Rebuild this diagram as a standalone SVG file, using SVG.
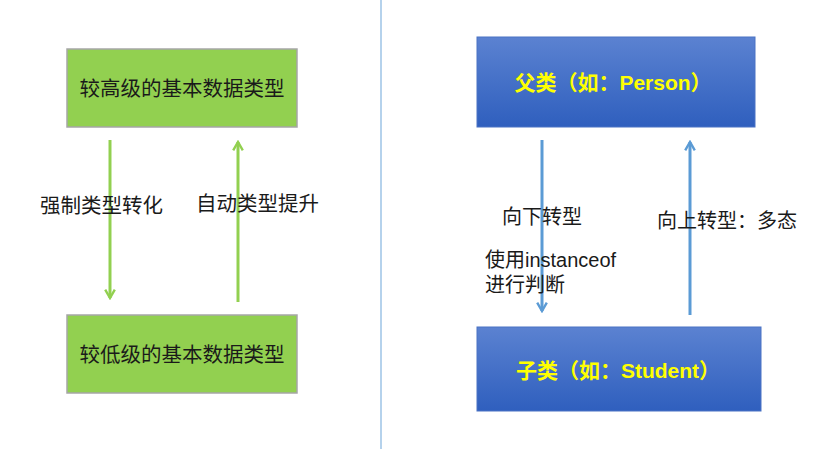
<svg xmlns="http://www.w3.org/2000/svg" width="838" height="449" viewBox="0 0 838 449">
<style>
.gbox{fill:#92D050;stroke:#A6A6A6;stroke-width:1.5}
.bbox{fill:url(#bg);stroke:#4A72C4;stroke-width:1}
.gt{font-family:"Noto Sans CJK SC","Liberation Sans",sans-serif;font-size:20.5px;fill:#1a1a1a}
.bt{font-family:"Liberation Sans","Noto Sans CJK SC",sans-serif;font-size:21px;font-weight:bold;fill:#FFFF00}
.lt{font-family:"Liberation Sans","Noto Sans CJK SC",sans-serif;font-size:20px;fill:#1a1a1a}
.garr{stroke:#92D050;stroke-width:3;fill:none}
.barr{stroke:#5B9BD5;stroke-width:3;fill:none}
</style>
<defs>
<linearGradient id="bg" x1="0" y1="0" x2="0" y2="1">
<stop offset="0" stop-color="#5B82D1"/>
<stop offset="1" stop-color="#2F5FBE"/>
</linearGradient>
<marker id="ga" viewBox="0 0 10 10" refX="8" refY="5" markerWidth="4" markerHeight="4" orient="auto" markerUnits="strokeWidth">
<path d="M1,1 L8,5 L1,9" fill="none" stroke="#92D050" stroke-width="2"/>
</marker>
<marker id="ba" viewBox="0 0 10 10" refX="8" refY="5" markerWidth="4" markerHeight="4" orient="auto" markerUnits="strokeWidth">
<path d="M1,1 L8,5 L1,9" fill="none" stroke="#5B9BD5" stroke-width="2"/>
</marker>
</defs>
<rect width="838" height="449" fill="#fff"/>
<line x1="381" y1="0" x2="381" y2="449" stroke="#9DC3E6" stroke-width="1.5"/>
<g id="high">
<rect class="gbox" x="67" y="49" width="230" height="78"/>
<text class="gt" x="182" y="96" text-anchor="middle">较高级的基本数据类型</text>
</g>
<g id="low">
<rect class="gbox" x="67" y="315" width="230" height="78"/>
<text class="gt" x="182" y="362" text-anchor="middle">较低级的基本数据类型</text>
</g>
<g id="parent">
<rect class="bbox" x="477" y="37" width="278" height="90"/>
<text class="bt" x="613" y="90" text-anchor="middle">父类（如：Person）</text>
</g>
<g id="child">
<rect class="bbox" x="477" y="327" width="284" height="84"/>
<text class="bt" x="618" y="378" text-anchor="middle">子类（如：Student）</text>
</g>
<g id="connectors">
<line class="garr" x1="110" y1="140" x2="110" y2="298" marker-end="url(#ga)"/>
<line class="garr" x1="238" y1="302" x2="238" y2="142" marker-end="url(#ga)"/>
<line class="barr" x1="542" y1="140" x2="542" y2="311" marker-end="url(#ba)"/>
<line class="barr" x1="690" y1="315" x2="690" y2="142" marker-end="url(#ba)"/>
</g>
<g id="labels">
<text class="gt" x="40" y="213">强制类型转化</text>
<text class="gt" x="196" y="211">自动类型提升</text>
<text class="lt" x="502" y="224">向下转型</text>
<text class="lt" x="657" y="228">向上转型：多态</text>
<text class="lt" x="485" y="267">使用instanceof</text>
<text class="lt" x="485" y="292">进行判断</text>
</g>
</svg>
